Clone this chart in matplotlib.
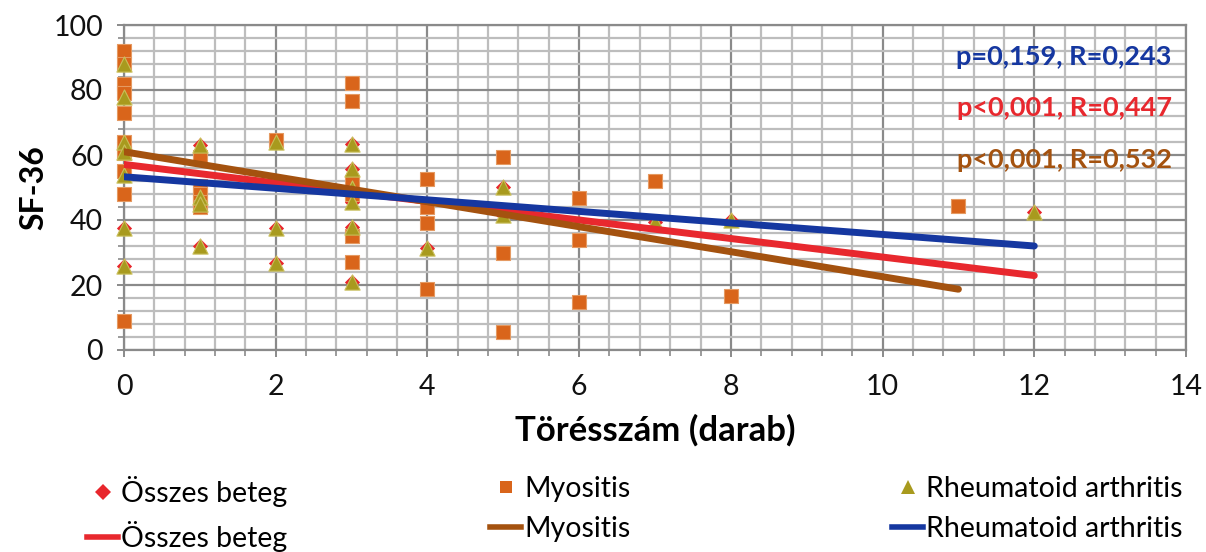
import matplotlib
matplotlib.use("Agg")
import matplotlib.pyplot as plt
import numpy as np
from matplotlib.lines import Line2D
from matplotlib.ticker import MultipleLocator

plt.rcParams['font.family'] = ['Lato', 'DejaVu Sans']

# ---- data ----
myo_x = [0, 0, 0, 0, 0, 0, 0, 0, 0, 0,
         1, 1, 1, 1, 1,
         2,
         3, 3, 3, 3, 3, 3,
         4, 4, 4, 4,
         5, 5, 5,
         6, 6, 6,
         7,
         8,
         11]
myo_y = [92, 88, 82, 79, 73, 64, 60.5, 55, 48, 9,
         59.5, 50.5, 48, 45.5, 44,
         64.5,
         82.3, 76.6, 51.8, 48, 35, 27,
         52.5, 44.1, 39.2, 18.9,
         59.5, 29.7, 5.6,
         46.9, 33.7, 14.7,
         52,
         16.7,
         44.3]

ra_x = [0, 0, 0, 0, 0, 0, 0,
        1, 1, 1, 1,
        2, 2, 2,
        3, 3, 3, 3, 3, 3,
        4,
        5, 5,
        7,
        8,
        12]
ra_y = [88, 78, 64, 61, 54, 37.5, 26,
        63, 47, 45, 32,
        64, 37.5, 26.7,
        63.3, 55.7, 50, 45.6, 38, 21,
        31.5,
        50.3, 41.5,
        39.5,
        40,
        42.6]

all_x = myo_x + ra_x
all_y = myo_y + ra_y

# trendlines (intercept, slope, x-range)
trend_all = (57.1, -2.85, 0, 12)
trend_myo = (61.0, -3.845, 0, 11)
trend_ra = (53.3, -1.775, 0, 12)

stats_labels = ["p=0,159, R=0,243", "p<0,001, R=0,447", "p<0,001, R=0,532"]

# ---- styles ----
c_all = '#e8262c'
c_myo = '#d9651b'
c_ra = '#a89a1e'
c_line_all = '#e8282e'
c_line_myo = '#a4520f'
c_line_ra = '#1537a0'

fig = plt.figure(figsize=(12.06, 5.52), dpi=100)
ax = fig.add_axes([124/1206, 1-350/552, (1186-124)/1206, (350-25)/552])

ax.set_xlim(0, 14)
ax.set_ylim(0, 100)
ax.xaxis.set_major_locator(MultipleLocator(2))
ax.xaxis.set_minor_locator(MultipleLocator(0.4))
ax.yaxis.set_major_locator(MultipleLocator(20))
ax.yaxis.set_minor_locator(MultipleLocator(4))
ax.grid(which='minor', color='#bdbdbd', linewidth=1.6, linestyle='-', zorder=0)
ax.grid(which='major', color='#8a8a8a', linewidth=1.6, linestyle='-', zorder=0)
ax.set_axisbelow(True)
for s in ax.spines.values():
    s.set_color('#8a8a8a')
    s.set_linewidth(1.6)
ax.tick_params(which='major', direction='inout', length=10, width=1.4, color='#8a8a8a',
               labelsize=20.5, pad=10, labelcolor='#111111')
ax.tick_params(axis='x', which='major', pad=12)
ax.tick_params(which='minor', direction='out', length=4, width=1.2, color='#8a8a8a')

ax.scatter(all_x, all_y, marker='D', s=60, color=c_all, zorder=3, linewidths=0, clip_on=False)
ax.scatter(myo_x, myo_y, marker='s', s=110, color=c_myo, zorder=4,
           edgecolors='#e59a62', linewidths=0.8, clip_on=False)
ax.scatter(ra_x, ra_y, marker='^', s=120, color=c_ra, zorder=5,
           edgecolors='#c9bf5a', linewidths=0.8, clip_on=False)

def draw_trend(t, color):
    b, m, x0, x1 = t
    xs = np.array([x0, x1])
    ax.plot(xs, b + m*xs, color=color, linewidth=5, solid_capstyle='round', zorder=6)

draw_trend(trend_all, c_line_all)
draw_trend(trend_myo, c_line_myo)
draw_trend(trend_ra, c_line_ra)

for lab, col, yy in zip(stats_labels, [c_line_ra, c_line_all, c_line_myo], [90.2, 74.5, 58.5]):
    ax.text(13.81, yy, lab, color=col, fontsize=19.5, fontweight='bold',
            ha='right', va='center', zorder=7)

ax.set_xlabel('Törésszám (darab)', fontsize=25, fontweight='bold', labelpad=10)
ax.set_ylabel('SF-36', fontsize=23, fontweight='bold', labelpad=4)

# legends (three columns, two rows each)
names = ['Összes beteg', 'Myositis', 'Rheumatoid arthritis']
mk = [('D', c_all, 8), ('s', c_myo, 9), ('^', c_ra, 10)]
lc = [c_line_all, c_line_myo, c_line_ra]
col_x = [87, 490, 892]
for i in range(3):
    h1 = Line2D([], [], linestyle='none', marker=mk[i][0], color=mk[i][1],
                markersize=mk[i][2], markeredgewidth=0)
    h2 = Line2D([], [], color=lc[i], linewidth=4)
    fig.legend([h1, h2], [names[i], names[i]], loc='upper left',
               bbox_to_anchor=(col_x[i]/1206, 1-476/552), frameon=False,
               fontsize=20.5, handlelength=1.1, handletextpad=0.1,
               labelspacing=0.5, borderpad=0, borderaxespad=0)

fig.savefig('out.png', dpi=100)
